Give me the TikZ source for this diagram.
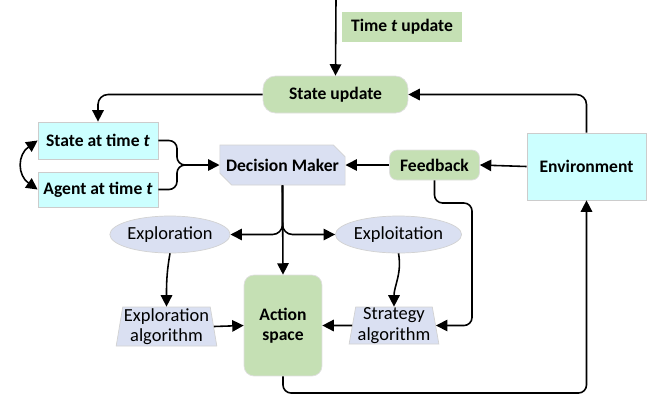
\documentclass[tikz,border=0pt]{standalone}
\usepackage{fontspec}
\setmainfont{Carlito}
\usepackage{tikz}
\usetikzlibrary{arrows.meta, shapes, positioning}
\definecolor{boxgreen}{HTML}{C5E0B4}
\definecolor{boxcyan}{HTML}{CCFFFF}
\definecolor{boxblue}{HTML}{DAE0F2}
\newcommand{\labelfont}{\fontsize{10.5}{11.5}\selectfont}
\newcommand{\boldfont}{\fontsize{10}{11.5}\selectfont\bfseries}
\tikzstyle{line} = [line width=0.9pt, black]
\tikzstyle{arrow} = [line, -{Triangle[length=6.5pt,width=6.5pt]}]
\tikzstyle{greenbox} = [rectangle, fill=boxgreen, draw=gray!25, font=\boldfont, inner sep=1pt]
\tikzstyle{cyanbox} = [rectangle, fill=boxcyan, draw=gray!40, font=\boldfont, inner sep=1pt]
\tikzstyle{bluebox} = [fill=boxblue, draw=gray!35, font=\labelfont, inner sep=0pt, align=center]
\tikzstyle{algobox} = [bluebox, trapezium, trapezium left angle=80, trapezium right angle=80, trapezium stretches=true]

\begin{document}
\begin{tikzpicture}[x=0.02cm, y=-0.02cm]
	\useasboundingbox (0,0) rectangle (650,397);

	\node (TimeUpd) [greenbox, draw=none, minimum width=2.4cm, minimum height=0.6cm] at (402, 27) {Time \textit{t} update};
	\node (StateUpd) [greenbox, rounded corners=0.25cm, minimum width=2.9cm, minimum height=0.74cm] at (335.5, 94.5) {State update};

	\node (StateT) [cyanbox, minimum width=2.4cm, minimum height=0.74cm] at (98, 140.5) {State at time \textit{t}};
	\node (AgentT) [cyanbox, minimum width=2.4cm, minimum height=0.7cm] at (98, 189.5) {Agent at time \textit{t}};

	\node (Decision) [bluebox, font=\boldfont, chamfered rectangle, chamfered rectangle corners={north east, south west}, chamfered rectangle xsep=0.24cm, minimum width=2.5cm, minimum height=0.8cm] at (282.5, 165) {Decision Maker};
	\node (Feedback) [greenbox, rounded corners=0.15cm, minimum width=1.8cm, minimum height=0.6cm] at (434.5, 165) {Feedback};
	\node (Env) [cyanbox, minimum width=2.38cm, minimum height=1.34cm] at (586.5, 166.5) {Environment};

	\node (Explore) [bluebox, ellipse, minimum width=2.4cm, minimum height=0.74cm] at (170, 234.5) {Exploration};
	\node (Exploit) [bluebox, ellipse, minimum width=2.46cm, minimum height=0.74cm] at (398.5, 234.5) {Exploitation};

	\node (ExpAlg) [algobox, minimum width=2.02cm, minimum height=0.78cm] at (166.5, 326.5) {Exploration\\algorithm};
	\node (StratAlg) [algobox, minimum width=1.8cm, minimum height=0.74cm] at (394, 325.5) {Strategy\\algorithm};
	\node (Action) [greenbox, align=center, rounded corners=0.2cm, minimum width=1.56cm, minimum height=2.02cm] at (283, 325.5) {Action\\space};

	% time step comes in from the top
	\coordinate (TopIn) at (336, 0);
	\draw [arrow] (TopIn) -- (StateUpd.north);

	\draw [arrow, rounded corners=0.2cm] (StateUpd.west) -| (StateT.north);
	\draw [arrow, rounded corners=0.2cm] (Env.north) |- (StateUpd.east);
	\draw [arrow, {Triangle[length=6.5pt,width=6.5pt]}-{Triangle[length=6.5pt,width=6.5pt]}] (StateT.west) to[out=215, in=145, looseness=1.3] (AgentT.west);

	% state and agent join into the decision maker
	\coordinate (Mid) at (177, 165);
	\coordinate (Join) at (190, 165);
	\draw [line, rounded corners=0.16cm] (StateT.east) -| (Mid) -- (Join);
	\draw [line, rounded corners=0.16cm] (AgentT.east) -| (Mid) -- (Join);
	\draw [arrow] (Join) -- (Decision.west);

	\draw [arrow] (Env.west) -- (Feedback.east);
	\draw [arrow] (Feedback.west) -- (Decision.east);

	\coordinate (FbRight) at (472, 203);
	\draw [arrow, rounded corners=0.16cm] (Feedback.south) |- (FbRight) |- (StratAlg.east);

	% decision maker splits three ways
	\draw [arrow] (Decision.south) -- (Action.north);
	\draw [arrow, rounded corners=0.2cm] (Decision.south) |- (Explore.east);
	\draw [arrow, rounded corners=0.2cm] (Decision.south) |- (Exploit.west);

	\draw [arrow] (Explore.south) to[out=-100, in=90] (ExpAlg.north);
	\draw [arrow] (Exploit.south) to[out=-80, in=90] (StratAlg.north);

	\draw [arrow] (ExpAlg.east) -- (Action.west);
	\draw [arrow] (StratAlg.west) -- (Action.east);

	\coordinate (Bottom) at (283, 393);
	\draw [arrow, rounded corners=0.16cm] (Action.south) -- (Bottom) -| (Env.south);
\end{tikzpicture}
\end{document}
